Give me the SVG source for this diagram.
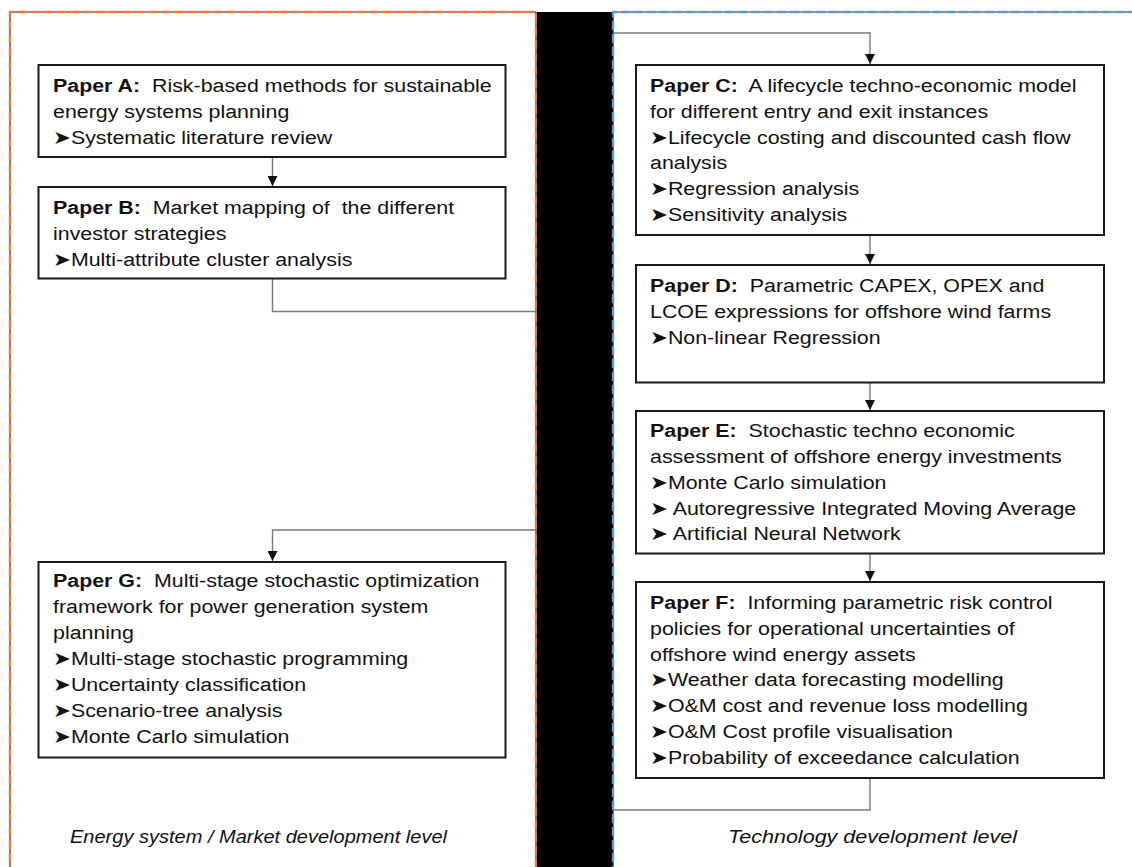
<svg xmlns="http://www.w3.org/2000/svg" width="1132" height="867" viewBox="0 0 1132 867">
  <defs>
    <style>
      .txt { font-family: "Liberation Sans", Arial, sans-serif; font-size: 19px; fill: #111; white-space: pre; }
      .b { font-weight: bold; }
      .bul { font-family: "DejaVu Sans", sans-serif; font-size: 19px; }
      .lbl { font-family: "Liberation Sans", Arial, sans-serif; font-size: 18px; font-style: italic; fill: #111; }
      .box { fill: #fff; stroke: #1a1a1a; stroke-width: 2; }
      .edge { fill: none; stroke: #7a7a7a; stroke-width: 1.4; }
      .frame-base { fill: none; stroke: #222; stroke-width: 1.2; }
      .frame-or { fill: none; stroke: #ed7d31; stroke-width: 2.4; stroke-dasharray: 9 4; }
      .frame-bl { fill: none; stroke: #5b9bd5; stroke-width: 2.4; stroke-dasharray: 9 4; }
    </style>
    <marker id="arrow" viewBox="0 0 10 10" refX="10" refY="5" markerWidth="10" markerHeight="10" markerUnits="userSpaceOnUse" orient="auto">
      <path d="M0,0 L10,5 L0,10 z" fill="#111"/>
    </marker>
  </defs>

  <rect width="1132" height="867" fill="#fff"/>

  <!-- Level frames and divider -->
  <g id="frames">
    <path class="frame-base" d="M10,875 V12 H536 V875"/>
    <path class="frame-or" d="M10,875 V12 H536 V875"/>
    <rect x="537" y="12" width="76" height="860" fill="#000"/>
    <path class="frame-base" d="M613,875 V12 H1140"/>
    <path class="frame-bl" d="M613,875 V12 H1140"/>
  </g>

  <!-- Connectors -->
  <g id="connectors">
    <path class="edge" d="M272.5,157 V186" marker-end="url(#arrow)"/>
    <path class="edge" d="M272.5,279 V311.5 H537"/>
    <path class="edge" d="M537,530 H272.5 V561" marker-end="url(#arrow)"/>
    <path class="edge" d="M613,33 H870 V64" marker-end="url(#arrow)"/>
    <path class="edge" d="M870,236 V264" marker-end="url(#arrow)"/>
    <path class="edge" d="M870,383 V410" marker-end="url(#arrow)"/>
    <path class="edge" d="M870,554 V581" marker-end="url(#arrow)"/>
    <path class="edge" d="M870,778 V810 H613"/>
  </g>

  <!-- Left column text is widened slightly about x=53, right column about x=650 -->
  <g id="paperA">
    <rect class="box" x="38.5" y="65" width="467" height="92"/>
    <g transform="matrix(1.125 0 0 1 -6.625 0)">
      <text class="txt" x="53" y="92"><tspan class="b">Paper A:</tspan>  Risk-based methods for sustainable</text>
      <text class="txt" x="53" y="118">energy systems planning</text>
      <text class="txt" x="53" y="144"><tspan class="bul">➤</tspan>Systematic literature review</text>
    </g>
  </g>

  <g id="paperB">
    <rect class="box" x="38.5" y="187" width="467" height="91.5"/>
    <g transform="matrix(1.125 0 0 1 -6.625 0)">
      <text class="txt" x="53" y="214"><tspan class="b">Paper B:</tspan>  Market mapping of  the different</text>
      <text class="txt" x="53" y="240">investor strategies</text>
      <text class="txt" x="53" y="266"><tspan class="bul">➤</tspan>Multi-attribute cluster analysis</text>
    </g>
  </g>

  <g id="paperG">
    <rect class="box" x="38.5" y="562" width="467" height="195.5"/>
    <g transform="matrix(1.125 0 0 1 -6.625 0)">
      <text class="txt" x="53" y="587"><tspan class="b">Paper G:</tspan>  Multi-stage stochastic optimization</text>
      <text class="txt" x="53" y="613">framework for power generation system</text>
      <text class="txt" x="53" y="639">planning</text>
      <text class="txt" x="53" y="665"><tspan class="bul">➤</tspan>Multi-stage stochastic programming</text>
      <text class="txt" x="53" y="691"><tspan class="bul">➤</tspan>Uncertainty classification</text>
      <text class="txt" x="53" y="717"><tspan class="bul">➤</tspan>Scenario-tree analysis</text>
      <text class="txt" x="53" y="743"><tspan class="bul">➤</tspan>Monte Carlo simulation</text>
    </g>
  </g>

  <g id="paperC">
    <rect class="box" x="636" y="65" width="468" height="170"/>
    <g transform="matrix(1.125 0 0 1 -81.25 0)">
      <text class="txt" x="650" y="92"><tspan class="b">Paper C:</tspan>  A lifecycle techno-economic model</text>
      <text class="txt" x="650" y="118">for different entry and exit instances</text>
      <text class="txt" x="650" y="144"><tspan class="bul">➤</tspan>Lifecycle costing and discounted cash flow</text>
      <text class="txt" x="650" y="169">analysis</text>
      <text class="txt" x="650" y="195"><tspan class="bul">➤</tspan>Regression analysis</text>
      <text class="txt" x="650" y="221"><tspan class="bul">➤</tspan>Sensitivity analysis</text>
    </g>
  </g>

  <g id="paperD">
    <rect class="box" x="636" y="265" width="468" height="117.5"/>
    <g transform="matrix(1.125 0 0 1 -81.25 0)">
      <text class="txt" x="650" y="292"><tspan class="b">Paper D:</tspan>  Parametric CAPEX, OPEX and</text>
      <text class="txt" x="650" y="318">LCOE expressions for offshore wind farms</text>
      <text class="txt" x="650" y="344"><tspan class="bul">➤</tspan>Non-linear Regression</text>
    </g>
  </g>

  <g id="paperE">
    <rect class="box" x="636" y="411" width="468" height="142.5"/>
    <g transform="matrix(1.125 0 0 1 -81.25 0)">
      <text class="txt" x="650" y="437"><tspan class="b">Paper E:</tspan>  Stochastic techno economic</text>
      <text class="txt" x="650" y="463">assessment of offshore energy investments</text>
      <text class="txt" x="650" y="489"><tspan class="bul">➤</tspan>Monte Carlo simulation</text>
      <text class="txt" x="650" y="515"><tspan class="bul">➤</tspan> Autoregressive Integrated Moving Average</text>
      <text class="txt" x="650" y="540"><tspan class="bul">➤</tspan> Artificial Neural Network</text>
    </g>
  </g>

  <g id="paperF">
    <rect class="box" x="636" y="582" width="468" height="196"/>
    <g transform="matrix(1.125 0 0 1 -81.25 0)">
      <text class="txt" x="650" y="609"><tspan class="b">Paper F:</tspan>  Informing parametric risk control</text>
      <text class="txt" x="650" y="635">policies for operational uncertainties of</text>
      <text class="txt" x="650" y="661">offshore wind energy assets</text>
      <text class="txt" x="650" y="686"><tspan class="bul">➤</tspan>Weather data forecasting modelling</text>
      <text class="txt" x="650" y="712"><tspan class="bul">➤</tspan>O&amp;M cost and revenue loss modelling</text>
      <text class="txt" x="650" y="738"><tspan class="bul">➤</tspan>O&amp;M Cost profile visualisation</text>
      <text class="txt" x="650" y="764"><tspan class="bul">➤</tspan>Probability of exceedance calculation</text>
    </g>
  </g>

  <g id="levels">
    <text class="lbl" x="70" y="843" textLength="377" lengthAdjust="spacingAndGlyphs">Energy system / Market development level</text>
    <text class="lbl" x="728" y="843" textLength="289" lengthAdjust="spacingAndGlyphs">Technology development level</text>
  </g>
</svg>
